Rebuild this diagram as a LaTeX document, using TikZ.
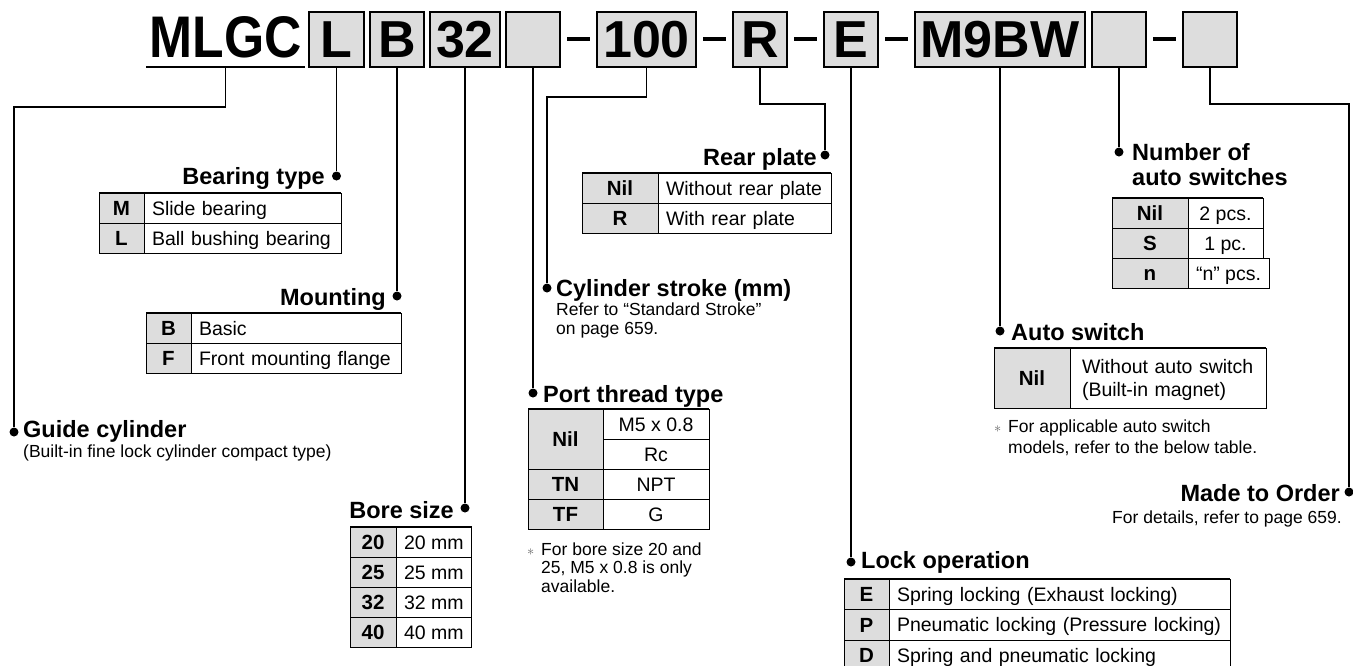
\documentclass[tikz,border=0pt]{standalone}
\usepackage{fontspec}
\setmainfont{Liberation Sans}
\newfontfamily\condfam[FakeStretch=0.88]{Liberation Sans}
\usepackage{tikz}
\usetikzlibrary{positioning,calc}
\definecolor{codegray}{RGB}{221,221,221}
\newcommand\fTitle{\condfam\bfseries\fontsize{58.7}{60}\selectfont}
\newcommand\fCode{\bfseries\fontsize{52}{54}\selectfont}
\newcommand\fHead{\bfseries\fontsize{23.5}{25}\selectfont}
\newcommand\fVal{\fontsize{19.5}{23}\selectfont}
\newcommand\fKey{\bfseries\fontsize{20.5}{23}\selectfont}
\newcommand\fNote{\fontsize{17.5}{18.5}\selectfont}
\newcommand\starmark{{\fontsize{15}{15}\selectfont\color{black!60}$\ast$}}
\tikzset{
  ln/.style={line width=1.6pt},
  cbox/.style={rectangle,draw,line width=1.8pt,fill=codegray,minimum height=55pt,
               text height=35pt,text depth=0pt,inner sep=0pt,outer sep=0pt,font=\fCode},
  dsh/.style={line width=3.5pt},
  dot/.style={circle,fill,inner sep=0pt,minimum size=9pt},
  hd/.style={inner sep=0pt,font=\fHead,align=left},
  nt/.style={inner sep=0pt,font=\fNote,align=left},
  tc/.style={rectangle,draw,line width=0.9pt,fill=codegray,inner sep=0pt,outer sep=0pt,
             minimum height=30pt,text height=14.5pt,text depth=0pt,font=\fKey},
  tv/.style={rectangle,draw,line width=0.9pt,fill=white,inner xsep=8pt,inner ysep=0pt,outer sep=0pt,
             minimum height=30pt,text height=14pt,text depth=0pt,font=\fVal},
  tvl/.style={tv,text width=#1,align=left},
  toprule/.style={line width=2.2pt},
}
\begin{document}
\begin{tikzpicture}[x=1pt,y=-1pt]
  \useasboundingbox (0,0) rectangle (1353,665);
  \clip (0,0) rectangle (1353,665);

  % model number
  \node[cbox,draw=none,fill=none,font=\fTitle,inner xsep=3pt] (mlgc) at (225.5,39.5) {MLGC};
  \draw[line width=2pt] (mlgc.south west) -- (mlgc.south east);
  \node[cbox,minimum width=55pt] (cL) at (336.5,39.5) {L};
  \node[cbox,minimum width=54pt,right=6pt of cL] (cB) {B};
  \node[cbox,minimum width=70pt,right=6pt of cB] (c32) {32};
  \node[cbox,minimum width=54pt,right=6pt of c32] (cP) {};
  \node[cbox,minimum width=99pt,right=37pt of cP] (c100) {100};
  \node[cbox,minimum width=54pt,right=37pt of c100] (cR) {R};
  \node[cbox,minimum width=54pt,right=37pt of cR] (cE) {E};
  \node[cbox,minimum width=170pt,right=37pt of cE] (cSw) {M9BW};
  \node[cbox,minimum width=54pt,right=7pt of cSw] (cN) {};
  \node[cbox,minimum width=54pt,right=37pt of cN] (cX) {};
  \foreach \a/\b in {cP/c100,c100/cR,cR/cE,cE/cSw,cN/cX}
    \draw[dsh] ($(\a.east)!.5!(\b.west)$) ++(-11.5,-0.5) -- ++(23,0);

  % dots
  \node[dot] (gdot) at (14,432) {};
  \node[dot] (btdot) at (cL.south |- 0,176) {};
  \node[dot] (mtdot) at (cB.south |- 0,296) {};
  \node[dot] (bsdot) at (c32.south |- 0,508) {};
  \node[dot] (ptdot) at (cP.south |- 0,393) {};
  \node[dot] (stdot) at (547,288) {};
  \node[dot] (rpdot) at (825,155) {};
  \node[dot] (lodot) at (cE.south |- 0,562) {};
  \node[dot] (asdot) at (cSw.south |- 0,331) {};
  \node[dot] (nadot) at (cN.south |- 0,152) {};
  \node[dot] (modot) at (1349,492) {};

  % leaders
  \draw[ln] (mlgc.south) -- ++(0,40) -| (gdot);
  \draw[ln] (cL.south) -- (btdot);
  \draw[ln] (cB.south) -- (mtdot);
  \draw[ln] (c32.south) -- (bsdot);
  \draw[ln] (cP.south) -- (ptdot);
  \draw[ln] (c100.south) -- ++(0,30) -| (stdot);
  \draw[ln] (cR.south) -- ++(0,37) -| (rpdot);
  \draw[ln] (cE.south) -- (lodot);
  \draw[ln] (cSw.south) -- (asdot);
  \draw[ln] (cN.south) -- (nadot);
  \draw[ln] (cX.south) -- ++(0,37) -| (modot);

  % guide cylinder
  \node[hd,anchor=base west] (gdhd) at (23,437) {Guide cylinder};
  \node[nt,anchor=base west] (gdnote) at (23,457) {(Built-in fine lock cylinder compact type)};

  % bearing type
  \node[hd,anchor=base east] (bthd) at (325,184) {Bearing type};
  \node[tc,minimum width=45pt,anchor=north west] (btM) at (99,193) {M};
  \node[tvl=181pt,right=0pt of btM] (btMv) {Slide bearing};
  \node[tc,minimum width=45pt,below=0pt of btM] (btL) {L};
  \node[tvl=181pt,right=0pt of btL] (btLv) {Ball bushing bearing};
  \draw[toprule] (btM.north west) -- (btMv.north east);

  % mounting
  \node[hd,anchor=base east] (mthd) at (386,305) {Mounting};
  \node[tc,minimum width=45pt,anchor=north west] (mtB) at (146,313) {B};
  \node[tvl=194pt,right=0pt of mtB] (mtBv) {Basic};
  \node[tc,minimum width=45pt,below=0pt of mtB] (mtF) {F};
  \node[tvl=194pt,right=0pt of mtF] (mtFv) {Front mounting flange};
  \draw[toprule] (mtB.north west) -- (mtBv.north east);

  % bore size
  \node[hd,anchor=base east] (bshd) at (454,518) {Bore size};
  \node[tc,minimum width=46pt,anchor=north west] (bs20) at (350,527) {20};
  \node[tv,minimum width=75pt,right=0pt of bs20] (bs20v) {20 mm};
  \node[tc,minimum width=46pt,below=0pt of bs20] (bs25) {25};
  \node[tv,minimum width=75pt,right=0pt of bs25] (bs25v) {25 mm};
  \node[tc,minimum width=46pt,below=0pt of bs25] (bs32) {32};
  \node[tv,minimum width=75pt,right=0pt of bs32] (bs32v) {32 mm};
  \node[tc,minimum width=46pt,below=0pt of bs32] (bs40) {40};
  \node[tv,minimum width=75pt,right=0pt of bs40] (bs40v) {40 mm};
  \draw[toprule] (bs20.north west) -- (bs20v.north east);

  % port thread type
  \node[hd,anchor=base west] (pthd) at (543,402) {Port thread type};
  \node[tc,minimum width=75pt,minimum height=60pt,anchor=north west] (ptNil) at (528,409) {Nil};
  \node[tv,minimum width=106pt,anchor=north west] (ptM5) at (ptNil.north east) {M5 x 0.8};
  \node[tv,minimum width=106pt,below=0pt of ptM5] (ptRc) {Rc};
  \node[tc,minimum width=75pt,below=0pt of ptNil] (ptTN) {TN};
  \node[tv,minimum width=106pt,right=0pt of ptTN] (ptTNv) {NPT};
  \node[tc,minimum width=75pt,below=0pt of ptTN] (ptTF) {TF};
  \node[tv,minimum width=106pt,right=0pt of ptTF] (ptTFv) {G};
  \draw[toprule] (ptNil.north west) -- (ptM5.north east);
  \node[nt,anchor=base west] (ptast) at (527,555) {\starmark};
  \node[nt,anchor=base west] (ptnote) at (541,592) {For bore size 20 and\\25, M5 x 0.8 is only\\available.};

  % cylinder stroke
  \node[hd,anchor=base west] (sthd) at (556,296) {Cylinder stroke (mm)};
  \node[nt,anchor=base west] (stnote) at (556,334) {Refer to “Standard Stroke”\\on page 659.};

  % rear plate
  \node[hd,anchor=base east] (rphd) at (817,165) {Rear plate};
  \node[tc,minimum width=76pt,anchor=north west] (rpNil) at (582,173) {Nil};
  \node[tvl=157pt,right=0pt of rpNil] (rpNilv) {Without rear plate};
  \node[tc,minimum width=76pt,below=0pt of rpNil] (rpR) {R};
  \node[tvl=157pt,right=0pt of rpR] (rpRv) {With rear plate};
  \draw[toprule] (rpNil.north west) -- (rpNilv.north east);

  % lock operation
  \node[hd,anchor=base west] (lohd) at (861,568) {Lock operation};
  \node[tc,minimum width=45pt,minimum height=30.5pt,anchor=north west] (loE) at (844,579) {E};
  \node[tvl=325pt,minimum height=30.5pt,right=0pt of loE] (loEv) {Spring locking (Exhaust locking)};
  \node[tc,minimum width=45pt,minimum height=30.5pt,below=0pt of loE] (loP) {P};
  \node[tvl=325pt,minimum height=30.5pt,right=0pt of loP] (loPv) {Pneumatic locking (Pressure locking)};
  \node[tc,minimum width=45pt,minimum height=30.5pt,below=0pt of loP] (loD) {D};
  \node[tvl=325pt,minimum height=30.5pt,right=0pt of loD] (loDv) {Spring and pneumatic locking};
  \draw[toprule] (loE.north west) -- (loEv.north east);

  % auto switch
  \node[hd,anchor=base west] (ashd) at (1011,340) {Auto switch};
  \node[tc,minimum width=76pt,minimum height=60pt,anchor=north west] (asNil) at (994,348) {Nil};
  \node[tvl=172pt,inner xsep=12pt,minimum height=60pt,text depth=23pt,right=0pt of asNil] (asNilv)
    {Without auto switch\\(Built-in magnet)};
  \draw[toprule] (asNil.north west) -- (asNilv.north east);
  \node[nt,anchor=base west] (asast) at (994,432) {\starmark};
  \node[nt,anchor=base west,font=\fontsize{17.5}{21}\selectfont] (asnote) at (1008,453)
    {For applicable auto switch\\models, refer to the below table.};

  % number of auto switches
  \node[hd,anchor=base west] (nahd) at (1132,185) {Number of\\auto switches};
  \node[tc,minimum width=76pt,anchor=north west] (naNil) at (1112,198) {Nil};
  \node[tv,minimum width=75pt,right=0pt of naNil] (naNilv) {2 pcs.};
  \node[tc,minimum width=76pt,below=0pt of naNil] (naS) {S};
  \node[tv,minimum width=75pt,right=0pt of naS] (naSv) {1 pc.};
  \node[tc,minimum width=76pt,below=0pt of naS] (nan) {n};
  \node[tv,minimum width=75pt,right=0pt of nan] (nanv) {“n” pcs.};
  \draw[toprule] (naNil.north west) -- (naNilv.north east);

  % made to order
  \node[hd,anchor=base east] (mohd) at (1340,501) {Made to Order};
  \node[nt,anchor=base east] (monote) at (1342,523) {For details, refer to page 659.};
\end{tikzpicture}
\end{document}
